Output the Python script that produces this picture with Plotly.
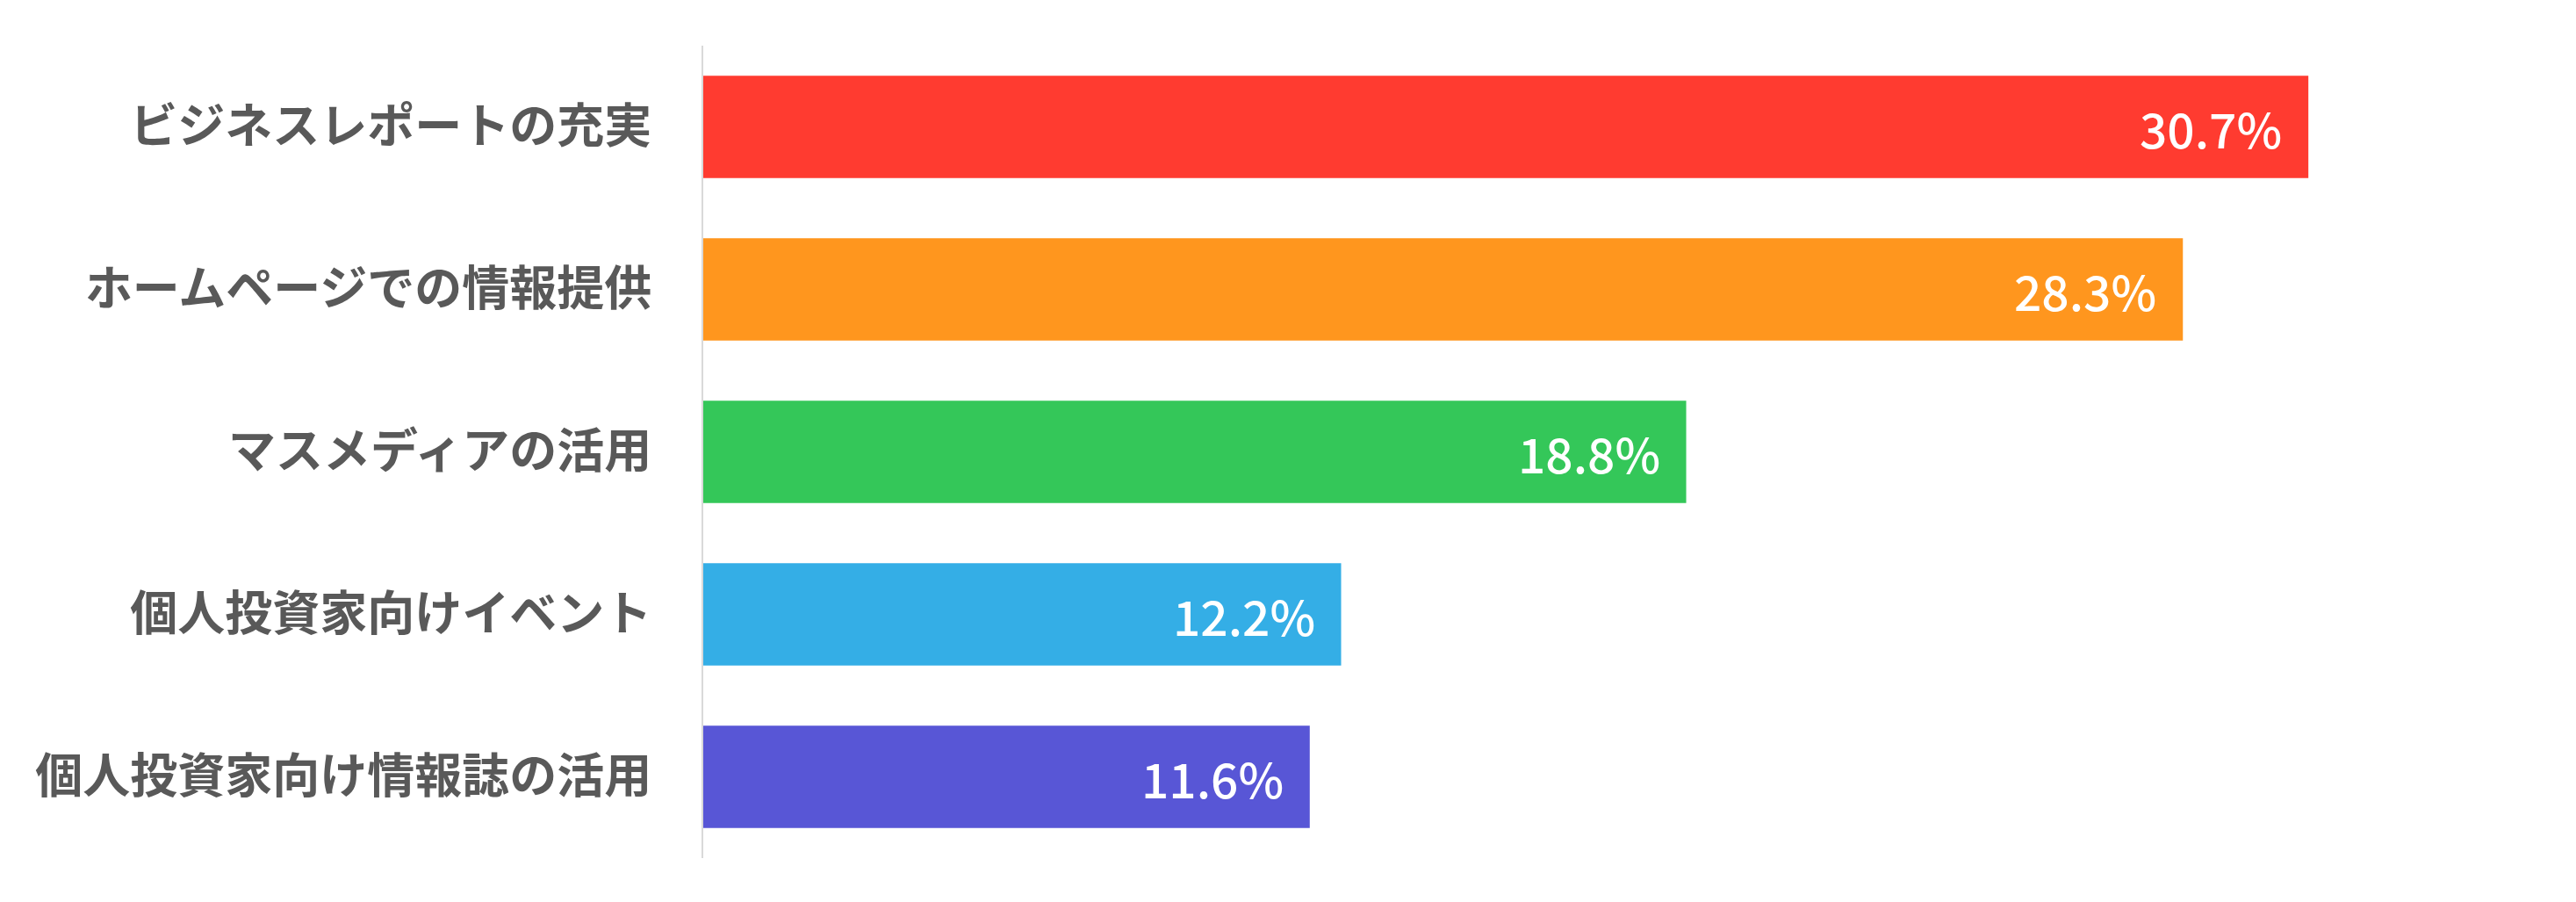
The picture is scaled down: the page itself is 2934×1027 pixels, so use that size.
import plotly.graph_objects as go

categories = [
    "ビジネスレポートの充実",
    "ホームページでの情報提供",
    "マスメディアの活用",
    "個人投資家向けイベント",
    "個人投資家向け情報誌の活用",
]
values = [30.7, 28.3, 18.8, 12.2, 11.6]
colors = ["#FF3B30", "#FF961E", "#34C759", "#34AEE6", "#5856D6"]

FONT = "Noto Sans CJK JP"

fig = go.Figure()
fig.add_trace(go.Bar(
    x=values,
    y=categories,
    orientation="h",
    marker=dict(color=colors, line=dict(width=0)),
    hoverinfo="skip",
))

for v, c in zip(values, categories):
    fig.add_annotation(
        x=v, y=c, xref="x", yref="y",
        text=f"{v:.1f}%",
        showarrow=False,
        xanchor="right", yanchor="middle",
        xshift=-28,
        font=dict(family=FONT, size=55, color="white", weight=500),
    )

fig.update_layout(
    width=2934, height=1027,
    margin=dict(l=793, r=52, t=44, b=58),
    paper_bgcolor="white",
    plot_bgcolor="white",
    bargap=0.37,
    showlegend=False,
    font=dict(family=FONT),
)
fig.update_xaxes(
    range=[0, 35.08],
    showgrid=False, zeroline=False,
    showticklabels=False, showline=False,
)
fig.update_yaxes(
    autorange="reversed",
    showgrid=False, zeroline=False,
    showline=True, linecolor="#D9D9D9", linewidth=2,
    ticks="", ticklabelstandoff=46,
    tickfont=dict(family=FONT, size=54, color="#595959", weight="bold"),
)

fig.write_html("out.html")
